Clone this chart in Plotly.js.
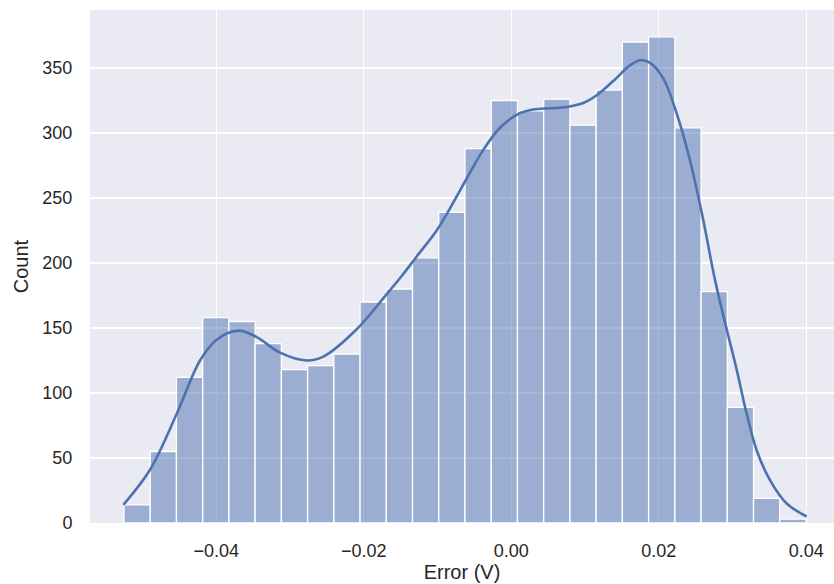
<!DOCTYPE html>
<html>
<head>
<meta charset="utf-8">
<script src="https://cdn.plot.ly/plotly-3.0.1.min.js"></script>
<style>html,body{margin:0;padding:0;background:#fff;}#chart{width:834px;height:584px;}</style>
</head>
<body>
<div id="chart"></div>
<script>
// Histogram bins (Error in V)
const binStart = -0.05252;
const binWidth = 0.003557;
const counts = [14, 55, 112, 158, 155, 138, 118, 121, 130, 170, 180, 204, 239, 288, 325, 317, 326, 306, 333, 370, 374, 304, 178, 89, 19, 3];

// KDE curve (scaled to counts)
const kdeX = [-0.05261, -0.04899, -0.04537, -0.04221, -0.03995, -0.03702, -0.03452, -0.03136, -0.02774, -0.02549, -0.02096, -0.01690, -0.01486, -0.01283, -0.01012, -0.00831, -0.00605, -0.00380, -0.00153, 0.00073, 0.00298, 0.00525, 0.00751, 0.00976, 0.01158, 0.01383, 0.01609, 0.01745, 0.01881, 0.02061, 0.02243, 0.02423, 0.02603, 0.02762, 0.02921, 0.03056, 0.03192, 0.03327, 0.03508, 0.03734, 0.04005];
const kdeY = [14, 41, 84, 125, 141, 148, 143, 131, 125, 128, 149, 176, 190, 205, 225, 242, 265, 287, 304, 314, 318, 319, 320, 323, 329, 340, 352, 356, 354, 342, 315, 279, 233, 187, 149, 118, 84, 56, 33, 15, 5];

const xTicks = [-0.04, -0.02, 0.00, 0.02, 0.04];
const yTicks = [0, 50, 100, 150, 200, 250, 300, 350];

const centers = counts.map((c, i) => binStart + binWidth * (i + 0.5));

const bars = {
  type: 'bar',
  x: centers,
  y: counts,
  width: binWidth,
  marker: {color: 'rgba(76,114,176,0.5)', line: {color: '#ffffff', width: 1.3}},
  hoverinfo: 'x+y'
};
const kde = {
  type: 'scatter',
  mode: 'lines',
  x: kdeX,
  y: kdeY,
  line: {color: '#4C72B0', width: 2.6, shape: 'spline', smoothing: 1},
  hoverinfo: 'skip'
};

const fam = '"Liberation Sans", Arial, sans-serif';
const txt = '#262626';

const layout = {
  width: 834, height: 584,
  margin: {l: 90, r: 0, t: 10, b: 61},
  paper_bgcolor: '#ffffff',
  plot_bgcolor: '#EAEAF2',
  showlegend: false,
  bargap: 0,
  font: {family: fam, color: txt},
  xaxis: {
    range: [-0.05713, 0.04376],
    tickvals: xTicks,
    tickformat: '.2f',
    showgrid: true, gridcolor: '#ffffff', gridwidth: 1.3,
    zeroline: false, showline: false,
    ticks: 'outside', ticklen: 11, tickcolor: 'rgba(0,0,0,0)',
    tickfont: {family: fam, size: 18, color: txt},
    title: {text: 'Error (V)', font: {family: fam, size: 20, color: txt}, standoff: 2}
  },
  yaxis: {
    range: [0, 394.6],
    tickvals: yTicks,
    showgrid: true, gridcolor: '#ffffff', gridwidth: 1.3,
    zeroline: false, showline: false,
    ticks: 'outside', ticklen: 13, tickcolor: 'rgba(0,0,0,0)',
    tickfont: {family: fam, size: 18, color: txt},
    title: {text: 'Count', font: {family: fam, size: 20, color: txt}, standoff: 8}
  }
};

Plotly.newPlot('chart', [bars, kde], layout, {displayModeBar: false, staticPlot: true});
</script>
</body>
</html>
